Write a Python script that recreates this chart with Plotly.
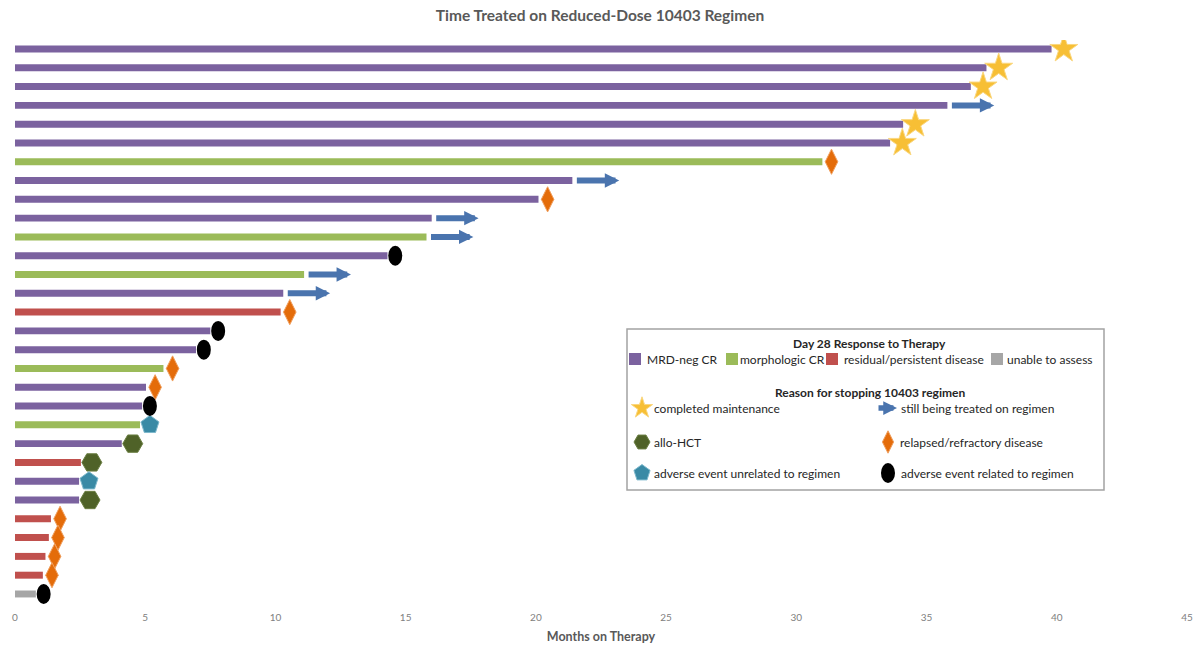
import plotly.graph_objects as go

# Patients, top to bottom: months on therapy, day-28 response, reason for stopping
months = [39.8, 37.3, 36.7, 35.8, 34.1, 33.6, 31.0, 21.4, 20.1, 16.0,
          15.8, 14.3, 11.1, 10.3, 10.2, 7.5, 6.95, 5.7, 5.03, 4.88,
          4.8, 4.1, 2.53, 2.46, 2.46, 1.38, 1.3, 1.17, 1.07, 0.8]
response = ["mrd", "mrd", "mrd", "mrd", "mrd", "mrd", "morph", "mrd", "mrd", "mrd",
            "morph", "mrd", "morph", "mrd", "resid", "mrd", "mrd", "morph", "mrd", "mrd",
            "morph", "mrd", "resid", "mrd", "mrd", "resid", "resid", "resid", "resid", "unable"]
reason = ["done", "done", "done", "ongoing", "done", "done", "relapse", "ongoing", "relapse", "ongoing",
          "ongoing", "ae_rel", "ongoing", "ongoing", "relapse", "ae_rel", "ae_rel", "relapse", "relapse", "ae_rel",
          "ae_unrel", "hct", "hct", "ae_unrel", "hct", "relapse", "relapse", "relapse", "relapse", "ae_rel"]
x_ticks = [0, 5, 10, 15, 20, 25, 30, 35, 40, 45]

response_labels = {"mrd": "MRD-neg CR", "morph": "morphologic CR",
                   "resid": "residual/persistent disease", "unable": "unable to assess"}
response_colors = {"mrd": "#7b629f", "morph": "#9bbb59", "resid": "#c0504d", "unable": "#a6a6a6"}

# symbol styling for the end-of-bar markers:
# (symbol, size, legend size, fill, outline, gap after bar in months)
reason_style = {
    "done": ("star", 21, 16, "#f7bf35", "#fad77f", 0.47),
    "relapse": ("diamond-tall", 18, 16, "#e46c0a", "#f0a060", 0.35),
    "hct": ("hexagon2", 20, 16, "#4f6228", "#6b7f43", 0.42),
    "ae_unrel": ("pentagon", 19, 17, "#3a8aa5", "#7db8cc", 0.38),
}
ARROW_LEN = 1.8
ARROW_COLOR = "#4a74ae"
FONT = "Lato, 'Open Sans', sans-serif"

rows = list(range(len(months)))
fig = go.Figure()

# bars, one trace per response category
for key, color in response_colors.items():
    idx = [i for i in rows if response[i] == key]
    fig.add_trace(go.Bar(
        x=[months[i] for i in idx], y=idx, orientation="h",
        width=0.37, marker=dict(color=color, line=dict(width=0)),
        name=response_labels[key], showlegend=False, hoverinfo="x"))

# marker symbols just beyond each bar end
for key, (sym, size, _, fill, edge, gap) in reason_style.items():
    idx = [i for i in rows if reason[i] == key]
    fig.add_trace(go.Scatter(
        x=[months[i] + gap for i in idx], y=idx, mode="markers",
        marker=dict(symbol=sym, size=size, color=fill, line=dict(color=edge, width=1)),
        showlegend=False, hoverinfo="skip"))

shapes = []
annotations = []

# black ovals: adverse event related to regimen
for i in rows:
    if reason[i] == "ae_rel":
        shapes.append(dict(type="circle", xref="x", yref="y",
                           xsizemode="pixel", ysizemode="pixel",
                           xanchor=months[i] + 0.3, yanchor=i,
                           x0=-7, x1=7, y0=-10, y1=10,
                           fillcolor="black", line=dict(color="black", width=0)))

# block arrows: still on regimen
for i in rows:
    if reason[i] == "ongoing":
        annotations.append(dict(x=months[i] + ARROW_LEN, y=i, ax=months[i], ay=i,
                                xref="x", yref="y", axref="x", ayref="y",
                                text="", showarrow=True, arrowhead=2, arrowsize=0.48,
                                arrowwidth=6, arrowcolor=ARROW_COLOR, startstandoff=3))

# ---- legend box drawn on an overlay axis measured in page pixels ----
BOX = dict(x0=627, x1=1104, y0=329, y1=490)
shapes.append(dict(type="rect", xref="x2", yref="y2", **BOX,
                   line=dict(color="#a3a3a3", width=1.5), fillcolor="white", layer="below"))

def text(x, y, s, bold=False, anchor="left"):
    annotations.append(dict(x=x, y=y, xref="x2", yref="y2", text=f"<b>{s}</b>" if bold else s,
                            showarrow=False, xanchor=anchor, yanchor="middle",
                            font=dict(family=FONT, size=12, color="#262626")))

text(869, 343, "Day 28 Response to Therapy", bold=True, anchor="center")
sq_x = [635, 732, 832, 997]
txt_x = [645, 738, 842, 1005]
for k, key in enumerate(response_colors):
    text(txt_x[k], 359, response_labels[key])
fig.add_trace(go.Scatter(x=sq_x, y=[359] * 4, xaxis="x2", yaxis="y2", mode="markers",
                         marker=dict(symbol="square", size=12, color=list(response_colors.values())),
                         showlegend=False, hoverinfo="skip", cliponaxis=False))

text(870, 392, "Reason for stopping 10403 regimen", bold=True, anchor="center")
leg_items = [("done", 642, 408, "completed maintenance"),
             ("hct", 642, 442, "allo-HCT"),
             ("relapse", 888, 442, "relapsed/refractory disease"),
             ("ae_unrel", 642, 473, "adverse event unrelated to regimen")]
for key, lx, ly, label in leg_items:
    sym, _, lsize, fill, edge, _ = reason_style[key]
    fig.add_trace(go.Scatter(x=[lx], y=[ly], xaxis="x2", yaxis="y2", mode="markers",
                             marker=dict(symbol=sym, size=lsize, color=fill, line=dict(color=edge, width=1)),
                             showlegend=False, hoverinfo="skip", cliponaxis=False))
    text(lx + 10, ly, label)

annotations.append(dict(x=897, y=408, ax=877, ay=408, xref="x2", yref="y2", axref="x2", ayref="y2",
                        text="", showarrow=True, arrowhead=2, arrowsize=0.5,
                        arrowwidth=5.5, arrowcolor=ARROW_COLOR))
text(899, 408, "still being treated on regimen")
shapes.append(dict(type="circle", xref="x2", yref="y2", xsizemode="pixel", ysizemode="pixel",
                   xanchor=888, yanchor=473, x0=-7, x1=7, y0=-10, y1=10,
                   fillcolor="black", line=dict(width=0)))
text(899, 473, "adverse event related to regimen")

fig.update_layout(
    width=1200, height=646,
    margin=dict(l=15, r=13, t=40, b=40),
    paper_bgcolor="white", plot_bgcolor="white",
    barmode="overlay",
    title=dict(text="<b>Time Treated on Reduced-Dose 10403 Regimen</b>",
               x=0.5, xanchor="center", y=1 - 16 / 646, yanchor="middle",
               font=dict(family=FONT, size=15.5, color="#595959")),
    xaxis=dict(range=[0, 45], tickvals=x_ticks, showgrid=False, zeroline=False,
               showline=False, ticks="", ticklabelstandoff=4, automargin=False,
               tickfont=dict(family=FONT, size=10, color="#808080"),
               title=dict(text="<b>Months on Therapy</b>", standoff=10,
                          font=dict(family=FONT, size=12.5, color="#595959"))),
    yaxis=dict(range=[29.64, -0.479], showticklabels=False, showgrid=False,
               zeroline=False, showline=False, ticks="", automargin=False),
    xaxis2=dict(overlaying="x", anchor="y2", range=[15, 1187], visible=False),
    yaxis2=dict(overlaying="y", anchor="x2", range=[606, 40], visible=False),
    shapes=shapes,
    annotations=annotations,
)

fig.write_html("out.html")
